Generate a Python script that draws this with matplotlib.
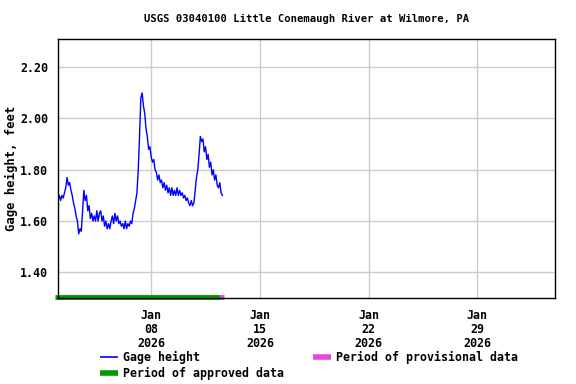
import datetime as dt
import numpy as np
import matplotlib
matplotlib.use("Agg")
import matplotlib.pyplot as plt
import matplotlib.dates as mdates
from matplotlib.lines import Line2D
from matplotlib.transforms import blended_transform_factory

# gage height, feet, every 2 hours from 2026-01-02 00:00
gage_height = [
    1.68, 1.70, 1.68, 1.70, 1.69, 1.71, 1.73, 1.77, 1.74, 1.75,
    1.72, 1.70, 1.67, 1.65, 1.62, 1.60, 1.55, 1.57, 1.56, 1.64,
    1.72, 1.68, 1.70, 1.64, 1.66, 1.61, 1.63, 1.60, 1.62, 1.60,
    1.64, 1.60, 1.63, 1.64, 1.60, 1.62, 1.58, 1.60, 1.57, 1.59,
    1.57, 1.60, 1.62, 1.59, 1.63, 1.60, 1.62, 1.59, 1.60, 1.58,
    1.59, 1.57, 1.60, 1.57, 1.59, 1.58, 1.60, 1.59, 1.63, 1.65,
    1.68, 1.71, 1.80, 1.93, 2.08, 2.10, 2.05, 2.02, 1.96, 1.93,
    1.88, 1.89, 1.85, 1.83, 1.84, 1.80, 1.79, 1.76, 1.78, 1.75,
    1.76, 1.73, 1.75, 1.72, 1.74, 1.71, 1.73, 1.70, 1.73, 1.70,
    1.72, 1.70, 1.73, 1.70, 1.72, 1.70, 1.71, 1.69, 1.70, 1.68,
    1.69, 1.67, 1.66, 1.68, 1.66, 1.67, 1.72, 1.77, 1.80, 1.86,
    1.93, 1.91, 1.92, 1.87, 1.89, 1.84, 1.86, 1.81, 1.83, 1.78,
    1.80, 1.76, 1.78, 1.74, 1.73, 1.75, 1.71, 1.70,
]
start = dt.datetime(2026, 1, 2, 0, 0)
step_hours = 2

# approval periods
approved = (dt.datetime(2026, 1, 1, 20), dt.datetime(2026, 1, 12, 10))
provisional = (dt.datetime(2026, 1, 12, 10), dt.datetime(2026, 1, 12, 17))

xlim = (dt.datetime(2026, 1, 2), dt.datetime(2026, 2, 3))
ylim = (1.30, 2.31)
yticks = [1.40, 1.60, 1.80, 2.00, 2.20]
xticks = [dt.datetime(2026, 1, 8), dt.datetime(2026, 1, 15),
          dt.datetime(2026, 1, 22), dt.datetime(2026, 1, 29)]

times = [start + dt.timedelta(hours=step_hours * i) for i in range(len(gage_height))]

plt.rcParams['font.family'] = ['DejaVu Sans Mono']
plt.rcParams['font.weight'] = 'bold'

W, H = 576, 384
fig = plt.figure(figsize=(W / 100, H / 100), dpi=100)
ax = fig.add_axes([58 / W, 1 - 298 / H, (555 - 58) / W, (298 - 39) / H])

ax.plot(times, gage_height, color='#0000ff', lw=1.0)

tr = blended_transform_factory(ax.transData, ax.transAxes)
ax.plot(approved, [0.004, 0.004], color='#009900', lw=3.5, transform=tr,
        clip_on=False, solid_capstyle='butt')
ax.plot(provisional, [0.004, 0.004], color='#ee44dd', lw=3.5, transform=tr,
        clip_on=False, solid_capstyle='butt')

ax.set_xlim(*xlim)
ax.set_ylim(*ylim)
ax.set_xticks(xticks)
ax.xaxis.set_major_formatter(mdates.DateFormatter('%b\n%d\n%Y'))
ax.set_yticks(yticks)
ax.set_yticklabels(['%.2f' % v for v in yticks])
ax.grid(True, color='#cccccc', lw=1)
ax.set_axisbelow(True)
ax.tick_params(length=0, labelsize=8.4)
ax.tick_params(axis='x', pad=8)
ax.tick_params(axis='y', pad=7)
for lab in ax.get_xticklabels():
    lab.set_linespacing(1.1)
for sp in ax.spines.values():
    sp.set_linewidth(1)
    sp.set_color('black')

fig.text(11 / W, 1 - 168.5 / H, 'Gage height, feet', rotation=90,
         ha='center', va='center', fontsize=8.8)
fig.text(0.5 * (58 + 555) / W, 1 - 19 / H,
         'USGS 03040100 Little Conemaugh River at Wilmore, PA',
         ha='center', va='center', fontsize=7.6)

# legend drawn by hand below the axes
def px(x, y):
    return x / W, 1 - y / H

items = [
    ('Gage height', '#0000ff', 1.2, 100, 357),
    ('Period of approved data', '#009900', 4, 100, 373),
    ('Period of provisional data', '#ee44dd', 4, 313, 357),
]
for label, color, lw, x0, y0 in items:
    (a, b), (c, d) = px(x0, y0), px(x0 + 18, y0)
    fig.add_artist(Line2D([a, c], [b, d], color=color, lw=lw,
                          transform=fig.transFigure, solid_capstyle='butt'))
    tx, ty = px(x0 + 23, y0)
    fig.text(tx, ty, label, ha='left', va='center', fontsize=8.4)

fig.savefig('out.png', dpi=100)
